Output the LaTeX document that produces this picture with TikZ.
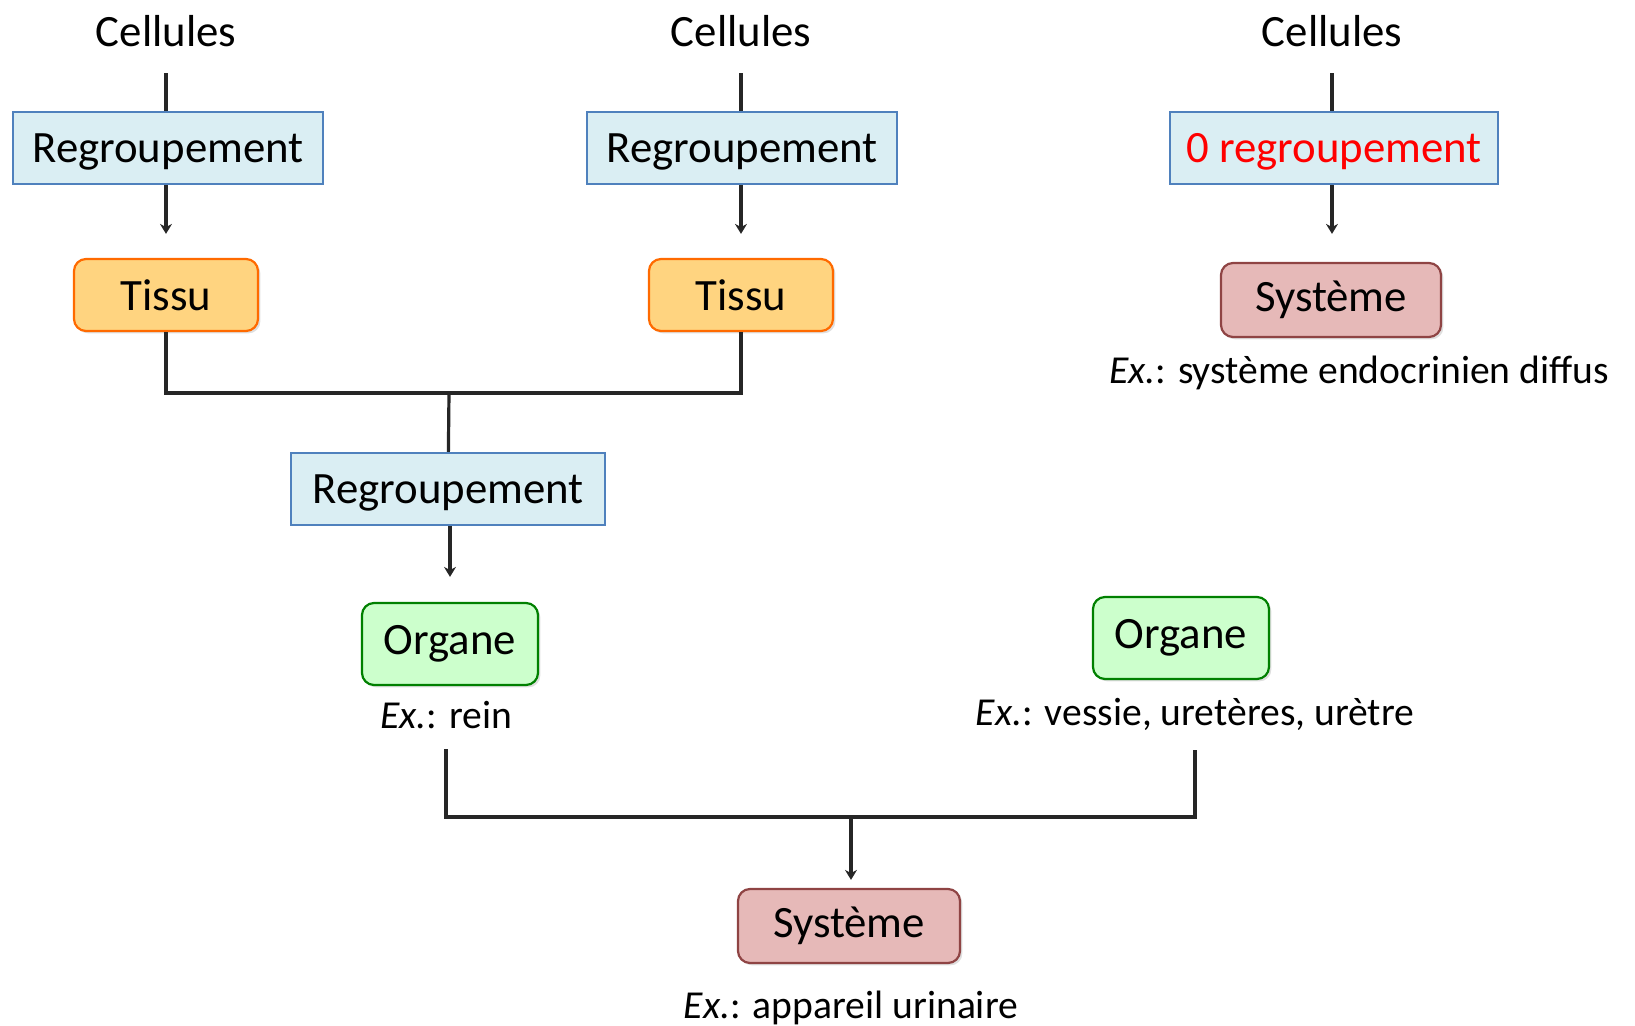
\documentclass[tikz,border=0pt]{standalone}
\usepackage{fontspec}
\setmainfont{Carlito}
\usepackage{xcolor}
\usetikzlibrary{arrows.meta,shadows}
\definecolor{regfill}{HTML}{DAEEF3}
\definecolor{regline}{HTML}{4F81BD}
\definecolor{tisfill}{HTML}{FFD480}
\definecolor{tisline}{HTML}{FF6A00}
\definecolor{sysfill}{HTML}{E6B9B8}
\definecolor{sysline}{HTML}{8F4444}
\definecolor{orgfill}{HTML}{CCFFCC}
\definecolor{orgline}{HTML}{008000}

\begin{document}
\begin{tikzpicture}[x=0.5pt,y=-0.5pt,font=\fontsize{22.4}{27}\selectfont,
  regbox/.style={draw=regline,fill=regfill,line width=1.1pt,minimum width=155pt,minimum height=36pt,inner sep=0pt,text depth=0pt},
  level/.style={rounded corners=6pt,line width=1.1pt,minimum height=36pt,inner sep=0pt,drop shadow={opacity=0.25,shadow xshift=1.2pt,shadow yshift=-1.2pt}},
  tissu/.style={level,draw=tisline,fill=tisfill,minimum width=92pt},
  organe/.style={level,draw=orgline,fill=orgfill,minimum width=88pt,minimum height=41pt},
  systeme/.style={level,draw=sysline,fill=sysfill,minimum width=110pt,minimum height=37pt},
  label/.style={inner sep=0pt},
  ex/.style={inner sep=0pt,text depth=0pt,font=\fontsize{19.8}{24}\selectfont},
  link/.style={draw=black!85,line width=1.6pt},
  arr/.style={link,-{Stealth[length=5pt,width=6pt]}}]
\useasboundingbox (0,0) rectangle (1635,1026);
% colonne de gauche
\node[label] (cel1) at (166,31) {Cellules};
\node[regbox] (reg1) at (168,148) {Regroupement};
\node[tissu] (tis1) at (166,295) {Tissu};
% colonne du milieu
\node[label] (cel2) at (741,31) {Cellules};
\node[regbox] (reg2) at (742,148) {Regroupement};
\node[tissu] (tis2) at (741,295) {Tissu};
% colonne de droite
\node[label] (cel3) at (1332,31) {Cellules};
\node[regbox,minimum width=164pt] (reg0) at (1334,148) {\textcolor{red}{0 regroupement}};
\node[systeme] (sys1) at (1331,300) {Système};
\node[ex] (exS) at (1359,370) {\textit{Ex.}: système endocrinien diffus};
% organes
\coordinate (j1) at (449,393);
\node[regbox,minimum width=157pt] (reg3) at (448,489) {Regroupement};
\node[organe] (org1) at (450,644) {Organe};
\node[ex] (ex1) at (446,715) {\textit{Ex.}: rein};
\node[organe] (org2) at (1181,638) {Organe};
\node[ex] (ex2) at (1195,712) {\textit{Ex.}: vessie, uretères, urètre};
% systeme
\coordinate (j2) at (851,817);
\node[systeme,minimum width=111pt] (sys2) at (849,926) {Système};
\node[ex] (ex3) at (851,1005) {\textit{Ex.}: appareil urinaire};
\draw[link,shorten <=13pt] (cel1) -- (cel1 |- reg1.north);
\draw[arr,shorten >=12pt] (reg1.south -| cel1) -- (tis1);
\draw[link,shorten <=13pt] (cel2) -- (cel2 |- reg2.north);
\draw[arr,shorten >=12pt] (reg2.south -| cel2) -- (tis2);
\draw[link,shorten <=13pt] (cel3) -- (cel3 |- reg0.north);
\draw[arr,shorten >=14pt] (reg0.south -| cel3) -- (sys1.north -| cel3);
\draw[link] (tis1) |- (j1) -| (tis2);
\draw[link] (j1) -- (reg3);
\draw[arr,shorten >=12.5pt] (reg3.south -| org1) -- (org1);
\draw[link,shorten <=10pt,shorten >=12pt] (ex1) |- (j2) -| (ex2);
\draw[arr,shorten >=4pt] (j2) -- (j2 |- sys2.north);
\end{tikzpicture}
\end{document}
